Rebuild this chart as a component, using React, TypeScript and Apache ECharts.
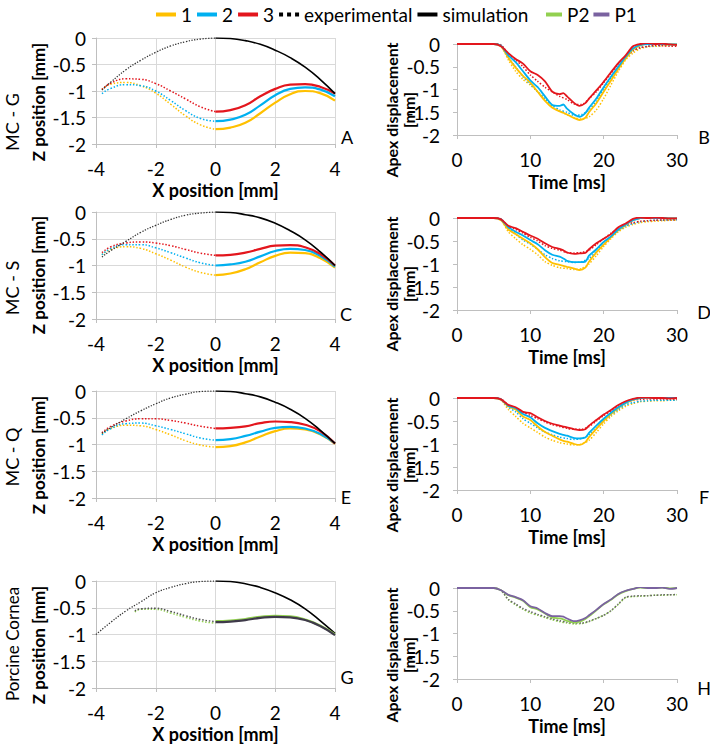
import React, { useEffect, useRef } from "react";
import * as echarts from "echarts";

const FONT = 'Lato, "Open Sans", sans-serif';

// ---- legend ----
const LEGEND_MAIN = ["1", "2", "3", "experimental", "simulation"];
const LEGEND_PIG = ["P2", "P1"];

// ---- left panels (profiles) : x positions ----
const X_EXP = [-3.8, -3.5, -3, -2.5, -2, -1.5, -1, -0.5, 0];
const X_EXP_G = [-4, -3.5, -3, -2.5, -2, -1.5, -1, -0.5, 0];
const X_EXP_P = [-2.7, -2.5, -2, -1.5, -1, -0.5, 0];
const X_SIM = [0, 0.5, 1, 1.5, 2, 2.5, 3, 3.5, 4];
const X_TICKS = [-4, -2, 0, 2, 4];
const Z_TICKS = [0, -0.5, -1, -1.5, -2];

// Panel A (MC - G)
const A_BLACK_EXP = [-0.98, -0.83, -0.6, -0.42, -0.27, -0.15, -0.07, -0.02, 0];
const A_BLACK_SIM = [0, -0.01, -0.05, -0.12, -0.23, -0.37, -0.55, -0.78, -1.05];
const A_1_EXP = [-0.97, -0.87, -0.84, -0.9, -1.04, -1.25, -1.47, -1.64, -1.72];
const A_1_SIM = [-1.72, -1.69, -1.6, -1.42, -1.22, -1.06, -1.0, -1.04, -1.18];
const A_2_EXP = [-1.05, -0.95, -0.88, -0.9, -1.0, -1.18, -1.37, -1.52, -1.57];
const A_2_SIM = [-1.57, -1.54, -1.45, -1.27, -1.08, -0.96, -0.93, -0.97, -1.1];
const A_3_EXP = [-0.97, -0.85, -0.77, -0.78, -0.86, -1.0, -1.15, -1.3, -1.39];
const A_3_SIM = [-1.39, -1.36, -1.27, -1.1, -0.96, -0.88, -0.87, -0.92, -1.05];

// Panel C (MC - S)
const C_BLACK_EXP = [-0.84, -0.72, -0.55, -0.38, -0.25, -0.14, -0.06, -0.02, 0];
const C_BLACK_SIM = [0, -0.01, -0.05, -0.11, -0.21, -0.35, -0.52, -0.74, -1.0];
const C_1_EXP = [-0.8, -0.7, -0.65, -0.68, -0.78, -0.9, -1.03, -1.13, -1.18];
const C_1_SIM = [-1.18, -1.15, -1.07, -0.94, -0.82, -0.76, -0.77, -0.86, -1.04];
const C_2_EXP = [-0.8, -0.68, -0.61, -0.61, -0.67, -0.76, -0.86, -0.95, -1.0];
const C_2_SIM = [-1.0, -0.98, -0.93, -0.83, -0.73, -0.69, -0.71, -0.82, -1.02];
const C_3_EXP = [-0.76, -0.65, -0.58, -0.56, -0.58, -0.63, -0.7, -0.77, -0.81];
const C_3_SIM = [-0.81, -0.8, -0.76, -0.69, -0.63, -0.62, -0.66, -0.78, -1.0];

// Panel E (MC - Q)
const E_BLACK_EXP = [-0.79, -0.68, -0.52, -0.37, -0.24, -0.13, -0.06, -0.01, 0];
const E_BLACK_SIM = [0, -0.01, -0.05, -0.11, -0.21, -0.34, -0.51, -0.73, -0.98];
const E_1_EXP = [-0.8, -0.7, -0.64, -0.65, -0.72, -0.82, -0.93, -1.01, -1.05];
const E_1_SIM = [-1.05, -1.03, -0.96, -0.85, -0.75, -0.7, -0.72, -0.81, -0.99];
const E_2_EXP = [-0.82, -0.7, -0.61, -0.6, -0.65, -0.72, -0.8, -0.88, -0.92];
const E_2_SIM = [-0.92, -0.9, -0.84, -0.76, -0.69, -0.67, -0.7, -0.8, -0.98];
const E_3_EXP = [-0.78, -0.66, -0.56, -0.52, -0.52, -0.55, -0.6, -0.66, -0.7];
const E_3_SIM = [-0.7, -0.69, -0.66, -0.6, -0.57, -0.58, -0.63, -0.75, -0.98];

// Panel G (Porcine Cornea)
const G_BLACK_EXP = [-1.0, -0.77, -0.56, -0.39, -0.22, -0.12, -0.05, -0.01, 0];
const G_BLACK_SIM = [0, -0.01, -0.05, -0.12, -0.22, -0.35, -0.52, -0.74, -0.98];
const G_P2_EXP = [-0.58, -0.53, -0.53, -0.6, -0.68, -0.75, -0.79];
const G_P1_EXP = [-0.56, -0.52, -0.51, -0.57, -0.65, -0.72, -0.76];
const G_P2_SIM = [-0.75, -0.74, -0.71, -0.67, -0.65, -0.66, -0.72, -0.83, -1.0];
const G_P1_SIM = [-0.77, -0.76, -0.73, -0.69, -0.67, -0.68, -0.73, -0.84, -1.01];

// ---- right panels (apex displacement vs time) ----
const T_SIM = [0, 5, 6, 7, 8, 9, 10, 11, 12, 13, 14, 14.5, 15, 16, 16.7, 17.5, 18, 19, 20, 21, 22, 23, 24, 25, 26, 27, 28, 29, 30];
const T_EXP = [0, 5, 6, 7, 8, 9, 10, 11, 12, 13, 14, 15, 16, 17, 18, 19, 20, 21, 22, 23, 24, 25, 26, 27, 28, 29, 30];
const T_TICKS = [0, 10, 20, 30];

// Panel B
const B_1_SIM = [0, 0, -0.05, -0.3, -0.52, -0.7, -0.85, -1.05, -1.25, -1.4, -1.48, -1.51, -1.55, -1.63, -1.67, -1.62, -1.5, -1.3, -1.05, -0.8, -0.55, -0.32, -0.12, -0.03, 0.01, 0.02, 0, -0.01, -0.01];
const B_2_SIM = [0, 0, -0.04, -0.25, -0.4, -0.6, -0.8, -0.95, -1.15, -1.34, -1.36, -1.33, -1.42, -1.55, -1.6, -1.52, -1.4, -1.2, -0.95, -0.72, -0.5, -0.28, -0.1, -0.02, 0, 0, 0, -0.01, -0.01];
const B_3_SIM = [0, 0, -0.05, -0.2, -0.33, -0.43, -0.6, -0.68, -0.82, -1.05, -1.1, -1.08, -1.15, -1.3, -1.36, -1.3, -1.2, -1.02, -0.83, -0.62, -0.42, -0.25, -0.05, 0, 0.02, 0, 0.01, -0.01, -0.02];
const B_1_EXP = [0.01, 0.01, -0.04, -0.35, -0.6, -0.78, -0.9, -1.05, -1.22, -1.38, -1.48, -1.55, -1.62, -1.65, -1.6, -1.45, -1.2, -0.9, -0.6, -0.35, -0.2, -0.1, -0.06, -0.05, -0.04, -0.03, -0.03];
const B_2_EXP = [0.01, 0.01, -0.03, -0.3, -0.5, -0.72, -0.88, -1.05, -1.2, -1.35, -1.45, -1.5, -1.57, -1.55, -1.45, -1.25, -1.0, -0.75, -0.5, -0.3, -0.15, -0.08, -0.05, -0.04, -0.03, -0.02, -0.02];
const B_3_EXP = [0.01, 0.01, -0.02, -0.22, -0.35, -0.5, -0.68, -0.82, -0.95, -1.05, -1.15, -1.22, -1.32, -1.33, -1.2, -1.05, -0.85, -0.65, -0.45, -0.3, -0.15, -0.08, -0.05, -0.03, -0.04, -0.05, -0.05];

// Panel D
const D_1_SIM = [0, 0, -0.05, -0.25, -0.35, -0.45, -0.55, -0.68, -0.85, -0.98, -1.02, -1.04, -1.06, -1.1, -1.13, -1.08, -0.95, -0.75, -0.58, -0.42, -0.27, -0.15, -0.05, 0, 0.01, 0, 0, -0.01, -0.01];
const D_2_SIM = [0, 0, -0.03, -0.2, -0.3, -0.38, -0.48, -0.57, -0.7, -0.8, -0.84, -0.88, -0.93, -0.96, -0.96, -0.95, -0.82, -0.68, -0.52, -0.4, -0.25, -0.14, -0.05, 0, 0.01, 0, 0, -0.01, -0.01];
const D_3_SIM = [0, 0, -0.03, -0.17, -0.22, -0.3, -0.38, -0.45, -0.55, -0.63, -0.67, -0.7, -0.75, -0.78, -0.77, -0.76, -0.68, -0.55, -0.45, -0.35, -0.2, -0.12, -0.02, 0.01, 0, 0.01, 0, -0.01, -0.01];
const D_1_EXP = [0.01, 0.01, -0.04, -0.3, -0.45, -0.58, -0.68, -0.8, -0.95, -1.03, -1.08, -1.1, -1.12, -1.1, -1.0, -0.82, -0.62, -0.45, -0.3, -0.2, -0.14, -0.1, -0.08, -0.07, -0.06, -0.05, -0.05];
const D_2_EXP = [0.01, 0.01, -0.03, -0.22, -0.35, -0.48, -0.57, -0.68, -0.8, -0.88, -0.93, -0.95, -0.97, -0.95, -0.88, -0.72, -0.55, -0.4, -0.28, -0.18, -0.12, -0.08, -0.06, -0.05, -0.05, -0.04, -0.04];
const D_3_EXP = [0.01, 0.01, -0.02, -0.18, -0.25, -0.33, -0.42, -0.5, -0.6, -0.66, -0.7, -0.75, -0.76, -0.75, -0.7, -0.58, -0.45, -0.33, -0.23, -0.15, -0.1, -0.07, -0.06, -0.05, -0.04, -0.04, -0.04];

// Panel F
const F_1_SIM = [0, 0, -0.04, -0.18, -0.25, -0.4, -0.48, -0.62, -0.74, -0.82, -0.9, -0.93, -0.95, -1.0, -1.02, -0.96, -0.85, -0.67, -0.5, -0.35, -0.22, -0.11, -0.04, 0, 0.01, 0, 0, 0, 0];
const F_2_SIM = [0, 0, -0.03, -0.17, -0.22, -0.35, -0.42, -0.55, -0.65, -0.72, -0.78, -0.8, -0.82, -0.87, -0.88, -0.86, -0.76, -0.6, -0.45, -0.32, -0.2, -0.1, -0.03, 0, 0.01, 0, 0, 0, 0];
const F_3_SIM = [0, 0, -0.03, -0.15, -0.2, -0.3, -0.33, -0.42, -0.5, -0.56, -0.6, -0.62, -0.64, -0.68, -0.7, -0.68, -0.6, -0.48, -0.36, -0.26, -0.15, -0.07, -0.02, 0.01, 0.01, 0, 0, -0.01, 0];
const F_1_EXP = [0.01, 0.01, -0.04, -0.25, -0.4, -0.55, -0.65, -0.75, -0.85, -0.92, -0.97, -1.0, -1.02, -1.0, -0.92, -0.75, -0.56, -0.4, -0.28, -0.18, -0.12, -0.08, -0.07, -0.06, -0.06, -0.05, -0.05];
const F_2_EXP = [0.01, 0.01, -0.03, -0.2, -0.3, -0.45, -0.55, -0.65, -0.74, -0.8, -0.85, -0.88, -0.9, -0.88, -0.8, -0.66, -0.5, -0.37, -0.25, -0.15, -0.1, -0.07, -0.06, -0.05, -0.05, -0.05, -0.05];
const F_3_EXP = [0.01, 0.01, -0.02, -0.15, -0.22, -0.3, -0.38, -0.45, -0.52, -0.58, -0.62, -0.66, -0.68, -0.68, -0.62, -0.5, -0.38, -0.28, -0.18, -0.1, -0.05, -0.03, -0.02, -0.02, -0.02, -0.02, -0.02];

// Panel H
const H_P1_SIM = [0, 0, -0.05, -0.15, -0.2, -0.27, -0.4, -0.45, -0.55, -0.62, -0.62, -0.63, -0.67, -0.73, -0.71, -0.66, -0.6, -0.48, -0.35, -0.25, -0.13, -0.06, -0.02, 0.02, 0, 0, 0.01, -0.02, 0];
const H_P2_SIM = [0, 0, -0.05, -0.16, -0.21, -0.28, -0.42, -0.47, -0.56, -0.65, -0.67, -0.69, -0.72, -0.76, -0.74, -0.68, -0.62, -0.49, -0.36, -0.26, -0.14, -0.07, -0.02, 0.01, 0, 0, 0.01, -0.01, 0];
const H_P1_EXP = [0, 0, -0.05, -0.25, -0.35, -0.45, -0.52, -0.58, -0.63, -0.68, -0.72, -0.75, -0.77, -0.77, -0.73, -0.67, -0.6, -0.5, -0.35, -0.2, -0.18, -0.17, -0.17, -0.16, -0.15, -0.15, -0.14];
const H_P2_EXP = [0, 0, -0.05, -0.26, -0.37, -0.47, -0.55, -0.6, -0.65, -0.7, -0.74, -0.77, -0.79, -0.78, -0.74, -0.67, -0.6, -0.5, -0.36, -0.21, -0.19, -0.18, -0.17, -0.16, -0.16, -0.15, -0.15];

// ---- styling (not data) ----
const COL = {
  "1": "#FFC000",
  "2": "#00B0F0",
  "3": "#E3161D",
  black: "#000000",
  P2: "#92D050",
  P1: "#7A62A0",
};

const GRIDS = [
  { left: 96, top: 38, width: 239, height: 106 }, // A
  { left: 457, top: 44, width: 220, height: 91 }, // B
  { left: 96, top: 212, width: 239, height: 107 }, // C
  { left: 457, top: 218, width: 220, height: 92 }, // D
  { left: 96, top: 391, width: 239, height: 107 }, // E
  { left: 457, top: 398, width: 220, height: 92 }, // F
  { left: 96, top: 581, width: 239, height: 107 }, // G
  { left: 457, top: 588, width: 220, height: 91 }, // H
];

const zip = (xs: number[], ys: number[]) => xs.map((x, i) => [x, ys[i]]);

function line(gi: number, xs: number[], ys: number[], color: string, kind: "sim" | "exp" | "bsim" | "bexp", left: boolean) {
  const ls: any = { color };
  if (kind === "sim") { ls.width = left ? 2.2 : 1.8; ls.type = "solid"; }
  if (kind === "exp") { ls.width = 1.5; ls.type = [1.5, 1.8]; }
  if (kind === "bsim") { ls.width = 1.6; ls.type = "solid"; }
  if (kind === "bexp") { ls.width = 1.3; ls.type = [1.3, 1.5]; ls.color = "#333"; }
  return {
    type: "line",
    name: `s${gi}-${color}-${kind}`,
    xAxisIndex: gi,
    yAxisIndex: gi,
    data: zip(xs, ys),
    symbol: "none",
    smooth: left ? 0.5 : 0.25,
    lineStyle: ls,
    itemStyle: { color },
    silent: true,
    z: kind === "sim" || kind === "bsim" ? 3 : 2,
  };
}

function buildOption() {
  const axisGray = "#bfbfbf";
  const xAxis: any[] = [];
  const yAxis: any[] = [];
  GRIDS.forEach((g, i) => {
    const left = i % 2 === 0;
    xAxis.push({
      type: "value",
      gridIndex: i,
      min: left ? X_TICKS[0] : T_TICKS[0],
      max: left ? X_TICKS[X_TICKS.length - 1] : T_TICKS[T_TICKS.length - 1],
      interval: left ? X_TICKS[1] - X_TICKS[0] : T_TICKS[1] - T_TICKS[0],
      axisLine: { show: true, onZero: false, lineStyle: { color: axisGray } },
      axisTick: { show: true, length: 4, lineStyle: { color: axisGray } },
      splitLine: { show: left, lineStyle: { color: "#d9d9d9" } },
      axisLabel: { fontSize: 19, color: "#000", fontFamily: FONT, margin: 15 },
      name: left ? "X position [mm]" : "Time [ms]",
      nameLocation: "middle",
      nameGap: left ? 37 : 38,
      nameTextStyle: { fontWeight: "bold", fontSize: 18, color: "#000", fontFamily: FONT },
    });
    yAxis.push({
      type: "value",
      gridIndex: i,
      min: Z_TICKS[Z_TICKS.length - 1],
      max: Z_TICKS[0],
      interval: Z_TICKS[0] - Z_TICKS[1],
      axisLine: { show: true, onZero: false, lineStyle: { color: axisGray } },
      axisTick: { show: true, length: 4, lineStyle: { color: axisGray } },
      splitLine: { show: left, lineStyle: { color: "#d9d9d9" } },
      axisLabel: { fontSize: 19, color: "#000", fontFamily: FONT, margin: left ? 10 : 17 },
    });
  });

  const series: any[] = [];
  // legend carriers (empty)
  LEGEND_MAIN.concat(LEGEND_PIG).forEach((n) => {
    const c = n === "experimental" || n === "simulation" ? COL.black : (COL as any)[n];
    series.push({ type: "line", name: n, xAxisIndex: 0, yAxisIndex: 0, data: [], symbol: "none", itemStyle: { color: c }, lineStyle: { color: c } });
  });

  const leftSets = [
    { gi: 0, bexp: A_BLACK_EXP, bsim: A_BLACK_SIM, e: [A_1_EXP, A_2_EXP, A_3_EXP], s: [A_1_SIM, A_2_SIM, A_3_SIM] },
    { gi: 2, bexp: C_BLACK_EXP, bsim: C_BLACK_SIM, e: [C_1_EXP, C_2_EXP, C_3_EXP], s: [C_1_SIM, C_2_SIM, C_3_SIM] },
    { gi: 4, bexp: E_BLACK_EXP, bsim: E_BLACK_SIM, e: [E_1_EXP, E_2_EXP, E_3_EXP], s: [E_1_SIM, E_2_SIM, E_3_SIM] },
  ];
  const keys = ["1", "2", "3"];
  leftSets.forEach((p) => {
    keys.forEach((k, j) => {
      series.push(line(p.gi, X_EXP, p.e[j], (COL as any)[k], "exp", true));
      series.push(line(p.gi, X_SIM, p.s[j], (COL as any)[k], "sim", true));
    });
    series.push(line(p.gi, X_EXP, p.bexp, COL.black, "bexp", true));
    series.push(line(p.gi, X_SIM, p.bsim, COL.black, "bsim", true));
  });
  // G
  series.push(line(6, X_EXP_G, G_BLACK_EXP, COL.black, "bexp", true));
  series.push(line(6, X_SIM, G_BLACK_SIM, COL.black, "bsim", true));
  series.push(line(6, X_EXP_P, G_P2_EXP, COL.P2, "exp", true));
  series.push(line(6, X_EXP_P, G_P1_EXP, "#555", "exp", true));
  series.push(line(6, X_SIM, G_P2_SIM, COL.P2, "sim", true));
  series.push(line(6, X_SIM, G_P1_SIM, "#3f3a4a", "sim", true));

  const rightSets = [
    { gi: 1, e: [B_1_EXP, B_2_EXP, B_3_EXP], s: [B_1_SIM, B_2_SIM, B_3_SIM] },
    { gi: 3, e: [D_1_EXP, D_2_EXP, D_3_EXP], s: [D_1_SIM, D_2_SIM, D_3_SIM] },
    { gi: 5, e: [F_1_EXP, F_2_EXP, F_3_EXP], s: [F_1_SIM, F_2_SIM, F_3_SIM] },
  ];
  rightSets.forEach((p) => {
    keys.forEach((k, j) => series.push(line(p.gi, T_EXP, p.e[j], (COL as any)[k], "exp", false)));
    keys.forEach((k, j) => series.push(line(p.gi, T_SIM, p.s[j], (COL as any)[k], "sim", false)));
  });
  series.push(line(7, T_EXP, H_P2_EXP, COL.P2, "exp", false));
  series.push(line(7, T_EXP, H_P1_EXP, "#666", "exp", false));
  series.push(line(7, T_SIM, H_P2_SIM, COL.P2, "sim", false));
  series.push(line(7, T_SIM, H_P1_SIM, COL.P1, "sim", false));

  const DOTS = "path://M0,0h2v2h-2z M4,0h2v2h-2z M8,0h2v2h-2z";
  const legendText = { fontSize: 19, fontFamily: FONT, color: "#000" };

  const graphic: any[] = [];
  const rowLabels = [
    { t: "MC - G", y: 122 },
    { t: "MC - S", y: 288 },
    { t: "MC - Q", y: 457 },
    { t: "Porcine Cornea", y: 644 },
  ];
  rowLabels.forEach((r) =>
    graphic.push({ type: "text", x: 12, y: r.y, rotation: Math.PI / 2, style: { text: r.t, font: `${r.t.length > 8 ? 17 : 18}px ${FONT}`, fill: "#000", align: "center", verticalAlign: "middle" } })
  );
  [102, 275, 455, 645].forEach((y) =>
    graphic.push({ type: "text", x: 38, y, rotation: Math.PI / 2, style: { text: "Z position [mm]", font: `bold 17px ${FONT}`, fill: "#000", align: "center", verticalAlign: "middle" } })
  );
  [110, 284, 465, 655].forEach((y) =>
    graphic.push({ type: "text", x: 400, y, rotation: Math.PI / 2, style: { text: "Apex displacement\n[mm]", font: `bold 16px ${FONT}`, lineHeight: 17, fill: "#000", align: "center", verticalAlign: "middle" } })
  );
  const letters = [
    { t: "A", x: 347, y: 137 }, { t: "B", x: 704, y: 137 },
    { t: "C", x: 346, y: 314 }, { t: "D", x: 704, y: 312 },
    { t: "E", x: 346, y: 497 }, { t: "F", x: 704, y: 497 },
    { t: "G", x: 347, y: 677 }, { t: "H", x: 704, y: 688 },
  ];
  letters.forEach((l) =>
    graphic.push({ type: "text", x: l.x, y: l.y, style: { text: l.t, font: `18px ${FONT}`, fill: "#000", align: "center", verticalAlign: "middle" } })
  );

  return {
    animation: false,
    backgroundColor: "#fff",
    grid: GRIDS.map((g) => ({ ...g, containLabel: false })),
    xAxis,
    yAxis,
    legend: [
      {
        left: 151, top: 0, itemWidth: 20, itemHeight: 4, itemGap: 5, selectedMode: false,
        textStyle: legendText,
        data: LEGEND_MAIN.map((n) => (n === "experimental" ? { name: n, icon: DOTS } : { name: n, icon: "rect" })),
      },
      {
        left: 541, top: 0, itemWidth: 16, itemHeight: 4, itemGap: 4, selectedMode: false,
        textStyle: legendText,
        data: LEGEND_PIG.map((n) => ({ name: n, icon: "rect" })),
      },
    ],
    series,
    graphic,
  };
}

export default function App() {
  const ref = useRef<HTMLDivElement>(null);
  useEffect(() => {
    if (!ref.current) return;
    const chart = echarts.init(ref.current, undefined, { renderer: "svg" });
    chart.setOption(buildOption() as any);
    return () => chart.dispose();
  }, []);
  return (
    <div
      ref={ref}
      style={{ position: "absolute", left: 0, top: 0, width: 710, height: 747, background: "#fff" }}
    />
  );
}
